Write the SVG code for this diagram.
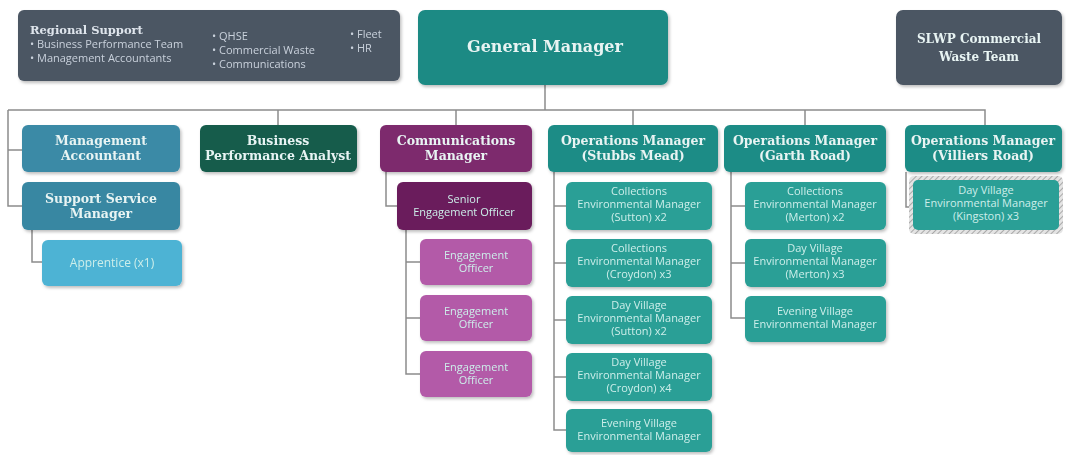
<svg xmlns="http://www.w3.org/2000/svg" width="1066" height="455" viewBox="0 0 1066 455">
<defs>
<filter id="sh" x="-10%" y="-10%" width="125%" height="130%">
<feDropShadow dx="1.5" dy="2" stdDeviation="1.5" flood-color="#000" flood-opacity="0.25"/>
</filter>
<pattern id="hatch" width="4" height="4" patternUnits="userSpaceOnUse" patternTransform="rotate(45)">
<rect width="4" height="4" fill="#e4e4e4"/>
<line x1="0" y1="0" x2="0" y2="4" stroke="#9a9a9a" stroke-width="1.6"/>
</pattern>
</defs>
<style>
.box{filter:url(#sh)}
.t{font-family:"DejaVu Serif",serif;font-weight:bold;font-size:12.5px;fill:#e8f4f3;text-anchor:middle}
.s{font-family:"Open Sans","Liberation Sans",sans-serif;font-size:11px;fill:#cdeeea;text-anchor:middle}
.r{font-family:"Open Sans","Liberation Sans",sans-serif;font-size:11px;fill:#c9d1db}
.c{fill:none;stroke:#8c8c8c;stroke-width:1.5}
</style>
<rect width="1066" height="455" fill="#fff"/>

<g id="connectors">
<path class="c" d="M545 85 V110 M8 110 H985 V125 M8 110 V206 H22 M8 150 H22 M278 110 V125 M456 110 V125 M633 110 V125 M805 110 V125"/>
<path class="c" d="M32 230 V262 H42"/>
<path class="c" d="M386 172 V206 H397 M406 230 V374 H420 M406 262 H420 M406 318 H420"/>
<path class="c" d="M554 172 V430 H566 M554 206 H566 M554 263 H566 M554 320 H566 M554 377 H566"/>
<path class="c" d="M731 172 V318 H745 M731 206 H745 M731 263 H745"/>
<path class="c" d="M906 172 V207 H912"/>
</g>

<g id="regional-support" class="box">
<rect x="18" y="10" width="382" height="71" rx="6" fill="#4b5664"/>
<text x="30" y="34" style="font-family:'DejaVu Serif',serif;font-weight:bold;font-size:11.5px;fill:#dfe5ec">Regional Support</text>
<text class="r" x="30" y="48">• Business Performance Team</text>
<text class="r" x="30" y="62">• Management Accountants</text>
<text class="r" x="212" y="40">• QHSE</text>
<text class="r" x="212" y="54">• Commercial Waste</text>
<text class="r" x="212" y="68">• Communications</text>
<text class="r" x="350" y="38">• Fleet</text>
<text class="r" x="350" y="52">• HR</text>
</g>

<g id="general-manager" class="box">
<rect x="418" y="10" width="250" height="75" rx="7" fill="#1f8a84"/>
<text class="t" x="545" y="52" style="font-size:16px">General Manager</text>
</g>

<g id="slwp" class="box">
<rect x="896" y="10" width="166" height="75" rx="7" fill="#4b5664"/>
<text class="t" x="979" y="43" style="font-size:12px">SLWP Commercial</text>
<text class="t" x="979" y="61" style="font-size:12px">Waste Team</text>
</g>

<g id="management-accountant" class="box">
<rect x="22" y="125" width="158" height="47" rx="6" fill="#3a8aa6"/>
<text class="t" x="101" y="145">Management</text>
<text class="t" x="101" y="160">Accountant</text>
</g>

<g id="support-service-manager" class="box">
<rect x="22" y="182" width="158" height="48" rx="6" fill="#3887a2"/>
<text class="t" x="101" y="203">Support Service</text>
<text class="t" x="101" y="218">Manager</text>
</g>

<g id="apprentice" class="box">
<rect x="42" y="240" width="140" height="46" rx="6" fill="#4db3d4"/>
<text class="s" x="112" y="267" style="font-size:12px">Apprentice (x1)</text>
</g>

<g id="business-performance-analyst" class="box">
<rect x="200" y="125" width="157" height="47" rx="6" fill="#145c4c"/>
<text class="t" x="278" y="145">Business</text>
<text class="t" x="278" y="160">Performance Analyst</text>
</g>

<g id="communications-manager" class="box">
<rect x="380" y="125" width="152" height="47" rx="6" fill="#7d2a6d"/>
<text class="t" x="456" y="145">Communications</text>
<text class="t" x="456" y="160">Manager</text>
</g>

<g id="senior-engagement-officer" class="box">
<rect x="397" y="182" width="135" height="48" rx="6" fill="#6a1e5c"/>
<text class="s" x="464" y="203">Senior</text>
<text class="s" x="464" y="216">Engagement Officer</text>
</g>

<g id="engagement-officer-1" class="box">
<rect x="420" y="239" width="112" height="46" rx="6" fill="#b35aa8"/>
<text class="s" x="476" y="259">Engagement</text>
<text class="s" x="476" y="272">Officer</text>
</g>
<g id="engagement-officer-2" class="box">
<rect x="420" y="295" width="112" height="46" rx="6" fill="#b35aa8"/>
<text class="s" x="476" y="315">Engagement</text>
<text class="s" x="476" y="328">Officer</text>
</g>
<g id="engagement-officer-3" class="box">
<rect x="420" y="351" width="112" height="46" rx="6" fill="#b35aa8"/>
<text class="s" x="476" y="371">Engagement</text>
<text class="s" x="476" y="384">Officer</text>
</g>

<g id="ops-stubbs" class="box">
<rect x="548" y="125" width="170" height="47" rx="6" fill="#1f8c86"/>
<text class="t" x="633" y="145">Operations Manager</text>
<text class="t" x="633" y="160">(Stubbs Mead)</text>
</g>
<g id="stubbs-1" class="box">
<rect x="566" y="182" width="146" height="48" rx="6" fill="#2a9f96"/>
<text class="s" x="639" y="195">Collections</text>
<text class="s" x="639" y="208">Environmental Manager</text>
<text class="s" x="639" y="221">(Sutton) x2</text>
</g>
<g id="stubbs-2" class="box">
<rect x="566" y="239" width="146" height="48" rx="6" fill="#2a9f96"/>
<text class="s" x="639" y="252">Collections</text>
<text class="s" x="639" y="265">Environmental Manager</text>
<text class="s" x="639" y="278">(Croydon) x3</text>
</g>
<g id="stubbs-3" class="box">
<rect x="566" y="296" width="146" height="48" rx="6" fill="#2a9f96"/>
<text class="s" x="639" y="309">Day Village</text>
<text class="s" x="639" y="322">Environmental Manager</text>
<text class="s" x="639" y="335">(Sutton) x2</text>
</g>
<g id="stubbs-4" class="box">
<rect x="566" y="353" width="146" height="48" rx="6" fill="#2a9f96"/>
<text class="s" x="639" y="366">Day Village</text>
<text class="s" x="639" y="379">Environmental Manager</text>
<text class="s" x="639" y="392">(Croydon) x4</text>
</g>
<g id="stubbs-5" class="box">
<rect x="566" y="409" width="146" height="43" rx="6" fill="#2a9f96"/>
<text class="s" x="639" y="427">Evening Village</text>
<text class="s" x="639" y="440">Environmental Manager</text>
</g>

<g id="ops-garth" class="box">
<rect x="724" y="125" width="162" height="47" rx="6" fill="#1f8c86"/>
<text class="t" x="805" y="145">Operations Manager</text>
<text class="t" x="805" y="160">(Garth Road)</text>
</g>
<g id="garth-1" class="box">
<rect x="745" y="182" width="141" height="48" rx="6" fill="#2a9f96"/>
<text class="s" x="815" y="195">Collections</text>
<text class="s" x="815" y="208">Environmental Manager</text>
<text class="s" x="815" y="221">(Merton) x2</text>
</g>
<g id="garth-2" class="box">
<rect x="745" y="239" width="141" height="48" rx="6" fill="#2a9f96"/>
<text class="s" x="815" y="252">Day Village</text>
<text class="s" x="815" y="265">Environmental Manager</text>
<text class="s" x="815" y="278">(Merton) x3</text>
</g>
<g id="garth-3" class="box">
<rect x="745" y="296" width="141" height="46" rx="6" fill="#2a9f96"/>
<text class="s" x="815" y="315">Evening Village</text>
<text class="s" x="815" y="328">Environmental Manager</text>
</g>

<g id="ops-villiers" class="box">
<rect x="905" y="125" width="157" height="47" rx="6" fill="#1f8c86"/>
<text class="t" x="983" y="145">Operations Manager</text>
<text class="t" x="983" y="160">(Villiers Road)</text>
</g>
<g id="villiers-1">
<rect x="909" y="176" width="154" height="58" rx="5" fill="url(#hatch)"/>
<rect x="913" y="180" width="146" height="50" rx="5" fill="#2a9f96"/>
<text class="s" x="986" y="194">Day Village</text>
<text class="s" x="986" y="207">Environmental Manager</text>
<text class="s" x="986" y="220">(Kingston) x3</text>
</g>
</svg>
